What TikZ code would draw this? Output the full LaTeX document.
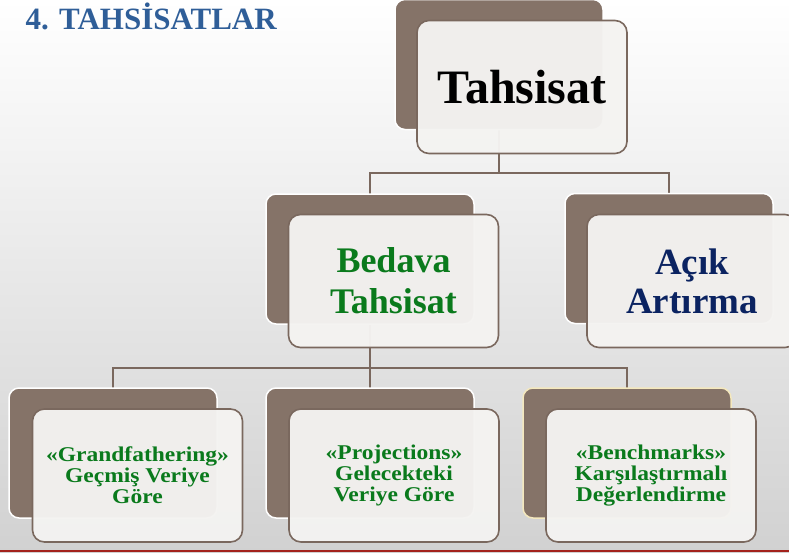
\documentclass[tikz,border=0pt]{standalone}
\usepackage{fontspec}
\setmainfont{Liberation Serif}
\newfontfamily\widefont{Liberation Serif}[FakeStretch=1.12]
\usepackage{tikz}

\definecolor{boxbrown}{HTML}{857368}
\definecolor{linebrown}{HTML}{7A685E}
\definecolor{frontfill}{HTML}{F4F3F1}
\definecolor{titleblue}{HTML}{2F5E98}
\definecolor{textgreen}{HTML}{0A7A1C}
\definecolor{textnavy}{HTML}{0B2361}
\definecolor{footred}{HTML}{A3221C}

\tikzset{
  backbox/.style={rounded corners=10pt, fill=boxbrown, draw=white, line width=1.5pt,
    minimum width=208pt, minimum height=130pt, inner sep=0pt},
  frontbox/.style={rounded corners=12pt, fill=frontfill, fill opacity=0.97, text opacity=1,
    draw=linebrown, line width=1.6pt, minimum width=210pt, minimum height=133pt,
    inner sep=0pt, align=center, font=\bfseries},
  lowtext/.style={text=textgreen, font=\widefont\fontsize{21}{21}\selectfont\bfseries},
  conn/.style={draw=linebrown, line width=1.8pt}
}

\begin{document}
\begin{tikzpicture}[x=1pt,y=-1pt]
    \useasboundingbox (0,0) rectangle (789,552);
    \shade[top color=white, bottom color=black!18] (0,0) rectangle (789,552);
    \draw [footred, line width=2pt] (0,551) -- (789,551);

    \node [anchor=base west, text=titleblue, font=\fontsize{31}{36}\selectfont\bfseries] (title) at (22,29) {4. TAHSİSATLAR};

    % connectors first, boxes on top
    \coordinate (top) at (499,64.5);
    \coordinate (mid) at (370,259);
    \coordinate (rgt) at (669,258.5);
    \coordinate (lo1) at (113,453);
    \coordinate (lo2) at (370,453);
    \coordinate (lo3) at (627,453);
    \draw [conn] (top) -- (499,173) coordinate (split1);
    \draw [conn] (mid) |- (split1) -| (rgt);
    \draw [conn] (mid) -- (370,368) coordinate (split2);
    \draw [conn] (lo1) |- (split2) -| (lo3);
    \draw [conn] (split2) -- (lo2);

    \node [backbox] (tahsisatB) at (top) {};
    \node [frontbox, font=\fontsize{48}{54}\selectfont\bfseries] (tahsisat) at (522,87) {Tahsisat};

    \node [backbox] (bedavaB) at (mid) {};
    \node [frontbox, text=textgreen, font=\fontsize{36}{41}\selectfont\bfseries] (bedava) at (393.5,281) {Bedava\\Tahsisat};

    \node [backbox] (acikB) at (rgt) {};
    \node [frontbox, text=textnavy, font=\fontsize{37}{39}\selectfont\bfseries] (acik) at (692,281) {Açık\\Artırma};

    \node [backbox] (grandB) at (lo1) {};
    \node [frontbox, lowtext] (grand) at (137.5,475.5) {«Grandfathering»\\Geçmiş Veriye\\Göre};

    \node [backbox] (projB) at (lo2) {};
    \node [frontbox, lowtext] (proj) at (394,475.5) {«Projections»\\Gelecekteki\\Veriye Göre};

    \node [backbox, draw=yellow!40!brown!30] (benchB) at (lo3) {};
    \node [frontbox, lowtext] (bench) at (651,475.5) {«Benchmarks»\\Karşılaştırmalı\\Değerlendirme};
\end{tikzpicture}
\end{document}
